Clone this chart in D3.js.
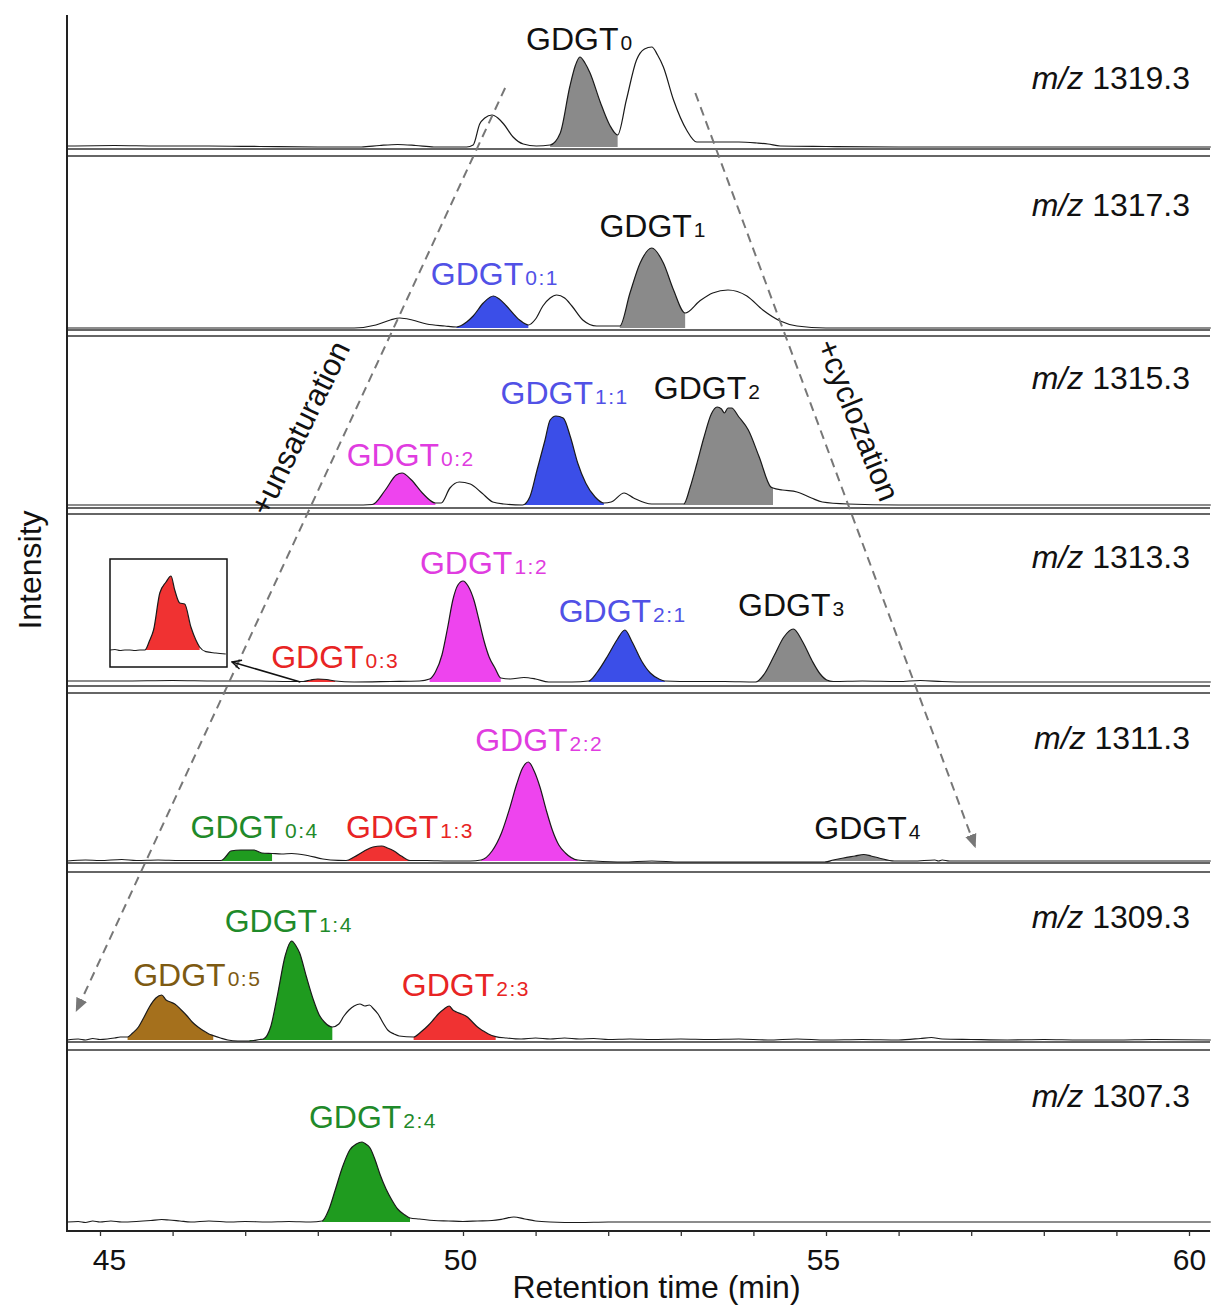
<!DOCTYPE html>
<html><head><meta charset="utf-8">
<script src="https://cdn.jsdelivr.net/npm/d3@7"></script>
<style>
body{margin:0;background:#fff;}
svg{display:block;font-family:"Liberation Sans",Arial,sans-serif;}
</style></head>
<body><svg id="c" width="1217" height="1312"></svg>
<script>
// ---------------- DATA ----------------
const mzLabels = ["1319.3","1317.3","1315.3","1313.3","1311.3","1309.3","1307.3"];
const xTicks = [45,46,47,48,49,50,51,52,53,54,55,56,57,58,59,60];
const xTickLabels = [45,50,55,60];

// traces: [retention time (min), relative intensity]
const trace1319 = [[44.55,1],[45.2,1.5],[45.8,1],[46.5,1],[47.2,0.5],[48.0,0],[48.6,0],[48.85,1.5],[49.1,2.5],[49.35,1.5],[49.6,0],[50.05,0],
[50.14,2],[50.23,23],[50.3,29],[50.4,32],[50.48,29],[50.56,23],[50.69,10],[50.83,3],[51.01,1],
[51.2,2],[51.34,14],[51.47,60],[51.55,82],[51.61,90],[51.68,84],[51.75,74],[51.89,45],[52.02,22],[52.13,12],
[52.25,47],[52.39,87],[52.5,98],[52.6,100],[52.68,92],[52.76,80],[52.9,47],[53.08,17],[53.22,5],
[53.5,5],[53.8,5],[54.05,4],[54.2,3],[54.37,1],[55,0.5],[56,0],[60.3,0]];
const trace1317 = [[44.55,0],[46,0],[47.5,0],[48.5,0],[48.8,3],[49.0,8],[49.13,10],[49.3,8],[49.5,4],[49.75,2],[49.91,1],
[50.05,6],[50.14,12],[50.28,25],[50.42,32],[50.5,29],[50.6,22],[50.78,8],[50.9,3],
[51.0,9],[51.1,22],[51.2,30],[51.29,33],[51.4,30],[51.5,22],[51.65,8],[51.84,2],[52.16,2],
[52.3,35],[52.44,65],[52.6,80],[52.76,65],[52.9,38],[53.06,15],
[53.26,27],[53.44,35],[53.65,38],[53.91,32],[54.13,18],[54.37,7],[54.6,2],[55,0],[60.3,0]];
const trace1315 = [[44.55,0],[46,0],[47,0],[48,0],[48.5,0],[48.75,0.5],[48.93,15],[49.08,30],[49.16,32],[49.29,25],[49.44,12],[49.62,2],
[49.7,2],[49.82,17],[49.95,23],[50.1,21],[50.26,12],[50.41,3],[50.56,1],[50.82,0],
[50.92,8],[51.02,35],[51.13,65],[51.2,85],[51.28,89],[51.38,87],[51.48,68],[51.58,42],[51.69,22],[51.82,8],[51.94,2],
[52.04,3],[52.22,12],[52.35,7],[52.6,1],[53.04,1],
[53.13,18],[53.22,41],[53.32,68],[53.42,91],[53.5,98],[53.56,96],[53.6,92],[53.65,97],[53.7,97],[53.8,88],[53.93,75],[54.08,48],[54.24,18],[54.27,17],
[54.4,15],[54.6,13],[54.8,7],[54.95,3],[55.3,1],[56,0],[60.3,0]];
const trace1313 = [[44.55,1],[45.3,1],[46,1.5],[46.6,1],[47.2,1],[47.6,0.5],[47.8,0.5],[47.9,2],[48.0,3],[48.12,2.5],[48.24,1],[48.5,0],[49.0,0.5],[49.4,1],[49.54,3],
[49.62,10],[49.71,27],[49.79,55],[49.86,82],[49.93,97],[50.0,101],[50.07,96],[50.15,82],[50.22,62],[50.29,41],[50.36,25],[50.44,14],[50.52,4],
[50.65,3],[50.84,4.5],[51.0,3],[51.18,0],[51.5,0],[51.73,1],
[51.85,10],[52.0,27],[52.12,42],[52.23,52],[52.33,40],[52.46,21],[52.58,9],[52.7,3],[52.78,1],
[53.2,0.5],[53.6,0.5],[54.03,0],
[54.15,8],[54.29,27],[54.42,45],[54.55,53],[54.68,40],[54.81,21],[54.92,8],[55.01,2],[55.1,0.5],
[55.5,1],[56.0,0.5],[56.3,1.5],[56.6,0.5],[57,0],[60.3,0]];
const trace1311 = [[44.55,0],[44.8,1],[45.0,0.5],[45.3,1.5],[45.5,0.5],[45.8,1],[46.1,0.5],[46.4,0.5],[46.67,0.5],
[46.74,5],[46.8,10],[46.94,11],[47.05,11],[47.12,11],[47.23,8],[47.37,7.5],[47.5,7],[47.64,7.5],[47.86,5.5],[48.07,2],[48.28,0.6],[48.39,0.5],
[48.5,4],[48.64,10],[48.76,14],[48.88,15],[48.96,13],[49.05,10],[49.15,5],[49.27,0.5],
[49.5,0.5],[49.8,0],[50.1,0],[50.25,1],
[50.4,10],[50.53,28],[50.64,52],[50.74,77],[50.82,93],[50.9,99],[50.98,90],[51.06,74],[51.15,50],[51.23,31],[51.32,16],[51.41,8],[51.58,1],
[51.8,0],[52.2,-1],[52.6,0],[53,-1],[53.5,-1],[54,-1],[54.5,-1],[54.99,-1],
[55.1,1],[55.24,3],[55.4,5],[55.52,6.5],[55.62,5],[55.73,3],[55.94,0],
[56.2,0],[56.5,1],[56.55,0],[56.6,1],[56.7,0],[57,0],[60.3,0]];
const trace1309 = [[44.55,0],[44.7,1],[44.8,0],[44.9,1.5],[45.0,0.5],[45.1,1],[45.2,2],[45.28,3],[45.38,3],
[45.45,7],[45.53,13],[45.6,22],[45.68,33],[45.77,42],[45.85,45],[45.91,40],[45.97,38],[46.03,36],[46.12,30],[46.2,24],[46.27,18],[46.35,13],[46.42,9.5],[46.5,6],[46.56,4.4],
[46.66,2],[46.76,0],[46.9,-1],[47.06,-1],
[47.2,0.5],[47.25,1],[47.35,13],[47.45,47],[47.55,84],[47.64,99],[47.7,94],[47.75,87],[47.84,64],[47.94,40],[48.02,25],[48.09,18],[48.2,13],
[48.29,16],[48.36,24],[48.43,30],[48.5,34],[48.58,36],[48.65,34],[48.71,35],[48.77,31],[48.83,26],[48.9,17],[48.97,9.5],[49.05,6],[49.12,4],[49.32,3],
[49.42,8],[49.52,14.5],[49.6,21],[49.66,26],[49.74,31],[49.81,34],[49.86,30],[49.91,28],[49.98,26],[50.06,23],[50.13,18],[50.2,13],[50.28,9],[50.35,6],[50.45,3.4],
[50.6,2],[50.8,1],[51.0,2],[51.2,1],[51.4,2],[51.6,1],[51.8,1.5],[52.0,0.5],[52.3,1],[52.6,0.5],[53.0,1],[53.4,0.5],[53.8,1],[54.2,0],[54.6,1],[55,0],[55.5,0.5],[56,0],[56.3,1.5],[56.45,2.5],[56.6,1],[57,0.5],[57.5,0],[58,0.5],[58.5,0],[59,0],[59.5,0.5],[60.3,0]];
const trace1307 = [[44.55,0],[44.7,0.5],[44.8,-0.5],[44.9,1],[45.0,0],[45.15,1],[45.3,0],[45.5,0.5],[45.7,1.5],[45.85,2.5],[45.95,2],[46.1,1],[46.25,0],[46.5,1],[46.8,0],[47.0,0.5],[47.3,0],[47.6,0.5],[47.9,0],[48.06,1],
[48.15,12],[48.24,32],[48.34,55],[48.44,72],[48.53,78],[48.61,80],[48.66,78],[48.72,74],[48.79,62],[48.86,47],[48.94,33],[49.02,22],[49.1,13],[49.2,7],[49.27,4],
[49.4,3],[49.6,1.5],[49.8,1],[50.0,0.5],[50.2,1],[50.4,1.5],[50.55,3],[50.7,5],[50.85,3],[51.0,1],[51.2,0],[51.6,-0.5],[52,0],[53,0],[54,0],[55,0],[56,0],[57,0],[58,0],[59,0],[60.3,0]];
const insetTrace = [[47.52,5],[47.56,5.5],[47.6,4.5],[47.64,5],[47.68,5],[47.72,4.5],[47.76,5],[47.8,5],
[47.84,15],[47.87,25],[47.92,62],[47.97,73],[48.01,79],[48.04,65],[48.08,52],[48.12,51],[48.17,28],[48.21,15],[48.24,8],[48.29,3.3],[48.37,2],[48.45,1]];

// integrated peaks: [panel index, start, end, class]
const peakFills = [
 [0,51.20,52.13,"gray"],
 [1,49.91,50.90,"blue"],[1,52.16,53.06,"gray"],
 [2,48.75,49.62,"magenta"],[2,50.82,51.94,"blue"],[2,53.04,54.27,"gray"],
 [3,47.80,48.24,"red"],[3,49.54,50.52,"magenta"],[3,51.73,52.78,"blue"],[3,54.03,55.10,"gray"],
 [4,46.67,47.37,"green"],[4,48.39,49.27,"red"],[4,50.25,51.58,"magenta"],[4,54.99,55.94,"gray"],
 [5,45.38,46.56,"brown"],[5,47.06,48.20,"green"],[5,49.32,50.45,"red"],
 [6,48.06,49.27,"green"]
];
// peak labels: [panel, base, subscript, time, intensity, class]
const peakLabels = [
 [0,"GDGT","0",51.61,97,"gray"],
 [1,"GDGT","1",52.62,91,"gray"],[1,"GDGT","0:1",50.44,43,"blue"],
 [2,"GDGT","1:1",51.40,101,"blue"],[2,"GDGT","2",53.37,106,"gray"],[2,"GDGT","0:2",49.28,39,"magenta"],
 [3,"GDGT","1:2",50.29,108,"magenta"],[3,"GDGT","2:1",52.20,60,"blue"],[3,"GDGT","3",54.53,66,"gray"],[3,"GDGT","0:3",48.24,14,"red"],
 [4,"GDGT","2:2",51.05,110,"magenta"],[4,"GDGT","0:4",47.13,23,"green"],[4,"GDGT","1:3",49.27,23,"red"],[4,"GDGT","4",55.58,22,"gray"],
 [5,"GDGT","1:4",47.60,108,"green"],[5,"GDGT","0:5",46.34,54,"brown"],[5,"GDGT","2:3",50.04,44,"red"],
 [6,"GDGT","2:4",48.76,94,"green"]
];
const traces = [trace1319,trace1317,trace1315,trace1313,trace1311,trace1309,trace1307];

// ---------------- STYLE / LAYOUT ----------------
const fillColor = {gray:"#8a8a8a",blue:"#3b4ee8",magenta:"#ee44ee",red:"#f03232",green:"#1f9b1f",brown:"#a5701c"};
const textColor = {gray:"#111",blue:"#5151e6",magenta:"#e03ce0",red:"#e82424",green:"#1f8a2a",brown:"#7d5a12"};
const baselines = [147,328,505,682,861,1040,1222];
const sepLines = [149,156,330,336,508,514,686,693,863,872,1042,1050];
const mzY = [89,216,389,568,749,928,1107];
const X0 = 67, X1 = 1210, AXY = 1231, TOP = 15;
const FONT = 32;

const svg = d3.select("#c");
const x = d3.scaleLinear().domain([45,60]).range([100,1189]);
const yScales = baselines.map(b => d3.scaleLinear().domain([0,100]).range([b,b-100]));
const defs = svg.append("defs");

// panel separators
svg.append("g").selectAll("line").data(sepLines).join("line")
  .attr("x1",X0).attr("x2",X1).attr("y1",d=>d).attr("y2",d=>d)
  .attr("stroke","#333").attr("stroke-width",1.6);
// axes lines
svg.append("line").attr("x1",X0).attr("x2",X0).attr("y1",TOP).attr("y2",AXY+1).attr("stroke","#222").attr("stroke-width",2);
svg.append("line").attr("x1",X0).attr("x2",X1).attr("y1",AXY).attr("y2",AXY).attr("stroke","#222").attr("stroke-width",2);

const axis = d3.axisBottom(x).tickValues(xTicks).tickSize(5)
  .tickFormat(d => xTickLabels.includes(d) ? d : "");
const gAx = svg.append("g").attr("transform",`translate(0,${AXY})`).call(axis);
gAx.select(".domain").remove();
gAx.selectAll(".tick line").attr("stroke","#333").attr("stroke-width",1.3);
gAx.selectAll(".tick text").attr("font-size",30).attr("fill","#111").attr("dy","1.02em")
  .attr("font-family","Liberation Sans, Arial, sans-serif");
gAx.selectAll(".tick text").filter(d=>d===45).attr("dx",9);
gAx.selectAll(".tick text").filter(d=>d===50||d===55).attr("dx",-3);

svg.append("text").attr("x",(x(45)+x(60))/2+12).attr("y",1298).attr("text-anchor","middle")
  .attr("font-size",32).attr("fill","#111").text("Retention time (min)");
svg.append("text").attr("transform","translate(41,570) rotate(-90)").attr("text-anchor","middle")
  .attr("font-size",32).attr("fill","#111").text("Intensity");

// fills + traces
peakFills.forEach((f,i)=>{
  const [p,t0,t1,c] = f;
  const ys = yScales[p];
  defs.append("clipPath").attr("id","cl"+i).append("rect")
    .attr("x",x(t0)).attr("width",x(t1)-x(t0)).attr("y",ys(140)).attr("height",142);
  const area = d3.area().x(d=>x(d[0])).y0(ys(0)).y1(d=>ys(d[1])).curve(d3.curveMonotoneX);
  svg.append("path").datum(traces[p]).attr("d",area).attr("fill",fillColor[c])
    .attr("clip-path",`url(#cl${i})`);
});
traces.forEach((tr,p)=>{
  const ys = yScales[p];
  const line = d3.line().x(d=>x(d[0])).y(d=>ys(d[1])).curve(d3.curveMonotoneX);
  svg.append("path").datum(tr).attr("d",line).attr("fill","none").attr("stroke","#1a1a1a").attr("stroke-width",1.2);
});

// m/z labels
mzLabels.forEach((m,i)=>{
  const t = svg.append("text").attr("x",1190).attr("y",mzY[i]).attr("text-anchor","end")
    .attr("font-size",FONT).attr("fill","#111");
  t.append("tspan").attr("font-style","italic").text("m/z");
  t.append("tspan").text(" "+m);
});

// peak labels
peakLabels.forEach(l=>{
  const [p,base,sub,tm,h,c] = l;
  const t = svg.append("text").attr("x",x(tm)).attr("y",yScales[p](h)).attr("text-anchor","middle")
    .attr("fill",textColor[c]).attr("font-size",FONT);
  t.append("tspan").text(base);
  t.append("tspan").attr("font-size",21).attr("dx",2).attr("letter-spacing",1.5).text(sub);
});

// trend arrows
defs.append("marker").attr("id","ah").attr("viewBox","0 0 12 12").attr("refX",10).attr("refY",6)
  .attr("markerWidth",14).attr("markerHeight",14).attr("markerUnits","userSpaceOnUse").attr("orient","auto")
  .append("path").attr("d","M0,1 L12,6 L0,11 Z").attr("fill","#777");
defs.append("marker").attr("id","ab").attr("viewBox","0 0 12 12").attr("refX",11).attr("refY",6)
  .attr("markerWidth",11).attr("markerHeight",11).attr("markerUnits","userSpaceOnUse").attr("orient","auto")
  .append("path").attr("d","M1,1 L11,6 L1,11").attr("fill","none").attr("stroke","#111").attr("stroke-width",1.6);

svg.append("line").attr("x1",x(50.58)).attr("y1",88).attr("x2",x(44.68)).attr("y2",1010)
  .attr("stroke","#777").attr("stroke-width",2).attr("stroke-dasharray","9,6").attr("marker-end","url(#ah)");
svg.append("line").attr("x1",x(53.20)).attr("y1",93).attr("x2",x(57.05)).attr("y2",846)
  .attr("stroke","#777").attr("stroke-width",2).attr("stroke-dasharray","9,6").attr("marker-end","url(#ah)");
svg.append("text").attr("transform","translate(300,428) rotate(-64)").attr("text-anchor","middle")
  .attr("dominant-baseline","central").attr("font-size",31).attr("fill","#111").text("+unsaturation");
svg.append("text").attr("transform","translate(858,420) rotate(68)").attr("text-anchor","middle")
  .attr("dominant-baseline","central").attr("font-size",31).attr("fill","#111").text("+cyclozation");

// inset (zoom on GDGT0:3)
const ix = d3.scaleLinear().domain([47.52,48.46]).range([110,227]);
const iy = d3.scaleLinear().domain([0,90]).range([655,565]);
svg.append("rect").attr("x",110).attr("y",559).attr("width",117).attr("height",108)
  .attr("fill","#fff").attr("stroke","#111").attr("stroke-width",1.5);
defs.append("clipPath").attr("id","icl").append("rect").attr("x",ix(47.8)).attr("width",ix(48.24)-ix(47.8)).attr("y",560).attr("height",96);
svg.append("path").datum(insetTrace).attr("clip-path","url(#icl)")
  .attr("d",d3.area().x(d=>ix(d[0])).y0(iy(5)).y1(d=>iy(d[1])).curve(d3.curveMonotoneX)).attr("fill",fillColor.red);
svg.append("path").datum(insetTrace)
  .attr("d",d3.line().x(d=>ix(d[0])).y(d=>iy(d[1])).curve(d3.curveMonotoneX)).attr("fill","none").attr("stroke","#1a1a1a").attr("stroke-width",1.2);
svg.append("line").attr("x1",x(47.76)).attr("y1",682).attr("x2",232).attr("y2",662)
  .attr("stroke","#111").attr("stroke-width",1.6).attr("marker-end","url(#ab)");
</script></body></html>
